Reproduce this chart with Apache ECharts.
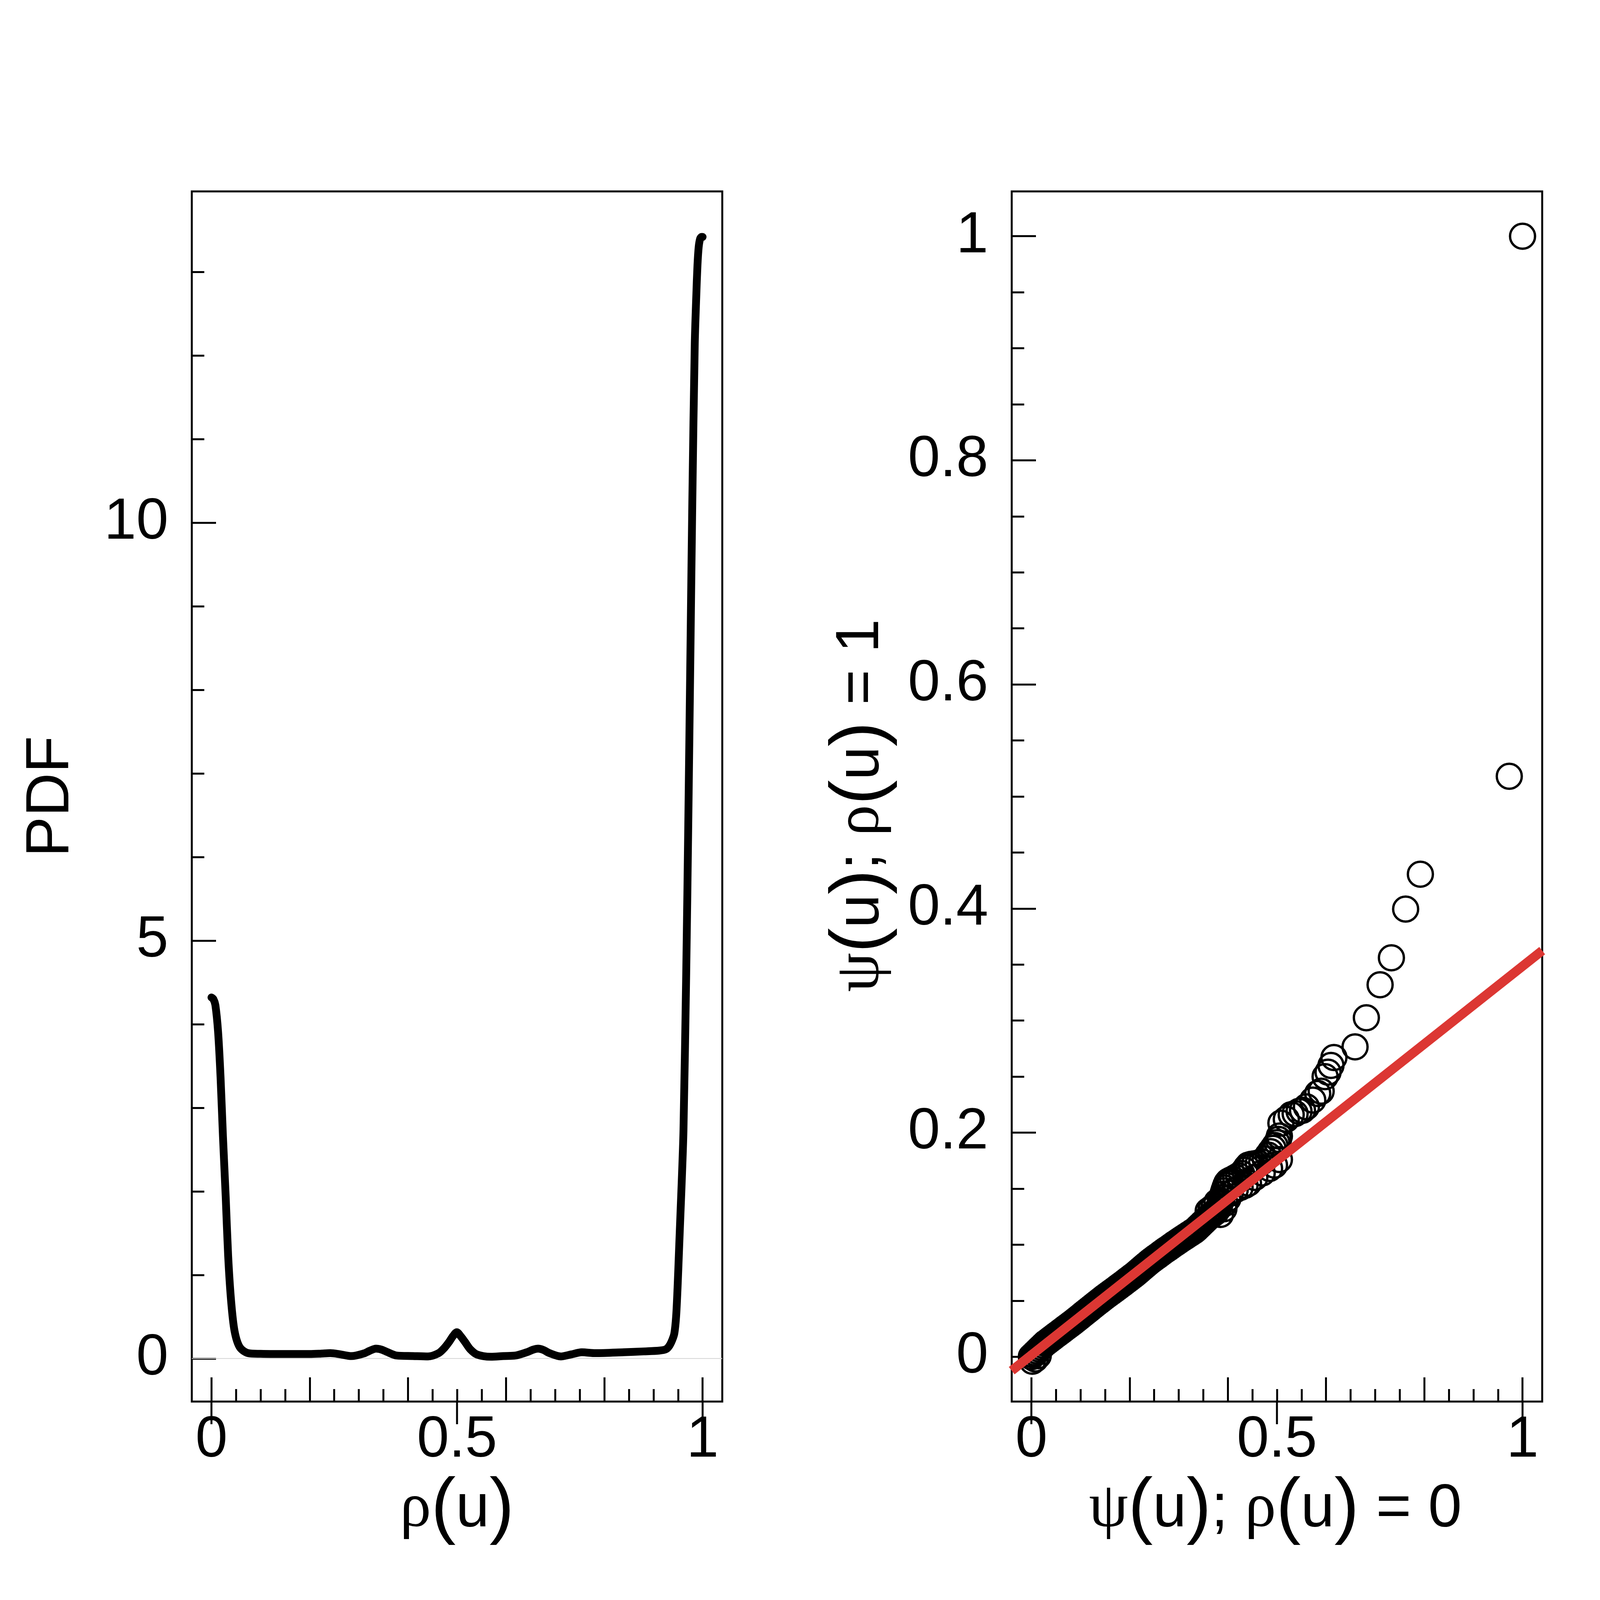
<!DOCTYPE html>
<html>
<head>
<meta charset="utf-8">
<script src="https://cdn.jsdelivr.net/npm/echarts@6/dist/echarts.min.js"></script>
<style>
  html, body { margin: 0; padding: 0; background: #fff; }
  #main { width: 4200px; height: 4200px; }
</style>
</head>
<body>
<div id="main"></div>
<script>
// left panel: density of rho(u)
const pdfX = [0, 0.004, 0.008, 0.0135, 0.0185, 0.0234, 0.029, 0.034, 0.040, 0.047, 0.0576, 0.075,
  0.10, 0.129, 0.16, 0.20, 0.222, 0.242, 0.262, 0.285, 0.31, 0.322, 0.335, 0.347, 0.357, 0.377,
  0.41, 0.441, 0.4625, 0.474, 0.484, 0.492, 0.4995, 0.507, 0.516, 0.527, 0.541, 0.569, 0.595,
  0.619, 0.642, 0.655, 0.665, 0.676, 0.688, 0.711, 0.733, 0.754, 0.782, 0.839, 0.88, 0.912,
  0.925, 0.932, 0.938, 0.9424, 0.946, 0.949, 0.952, 0.955, 0.958, 0.961, 0.9666, 0.971, 0.975,
  0.979, 0.984, 0.987, 0.9895, 0.992, 0.995, 0.998, 1.0];
const pdfY = [4.32, 4.30, 4.23, 3.91, 3.37, 2.66, 1.94, 1.23, 0.69, 0.33, 0.136, 0.064,
  0.056, 0.054, 0.054, 0.054, 0.058, 0.064, 0.05, 0.029, 0.06, 0.092, 0.118, 0.105, 0.08, 0.036,
  0.03, 0.025, 0.064, 0.125, 0.2, 0.27, 0.315, 0.27, 0.2, 0.11, 0.047, 0.021, 0.03,
  0.036, 0.075, 0.106, 0.118, 0.102, 0.065, 0.025, 0.05, 0.075, 0.064, 0.075, 0.085, 0.095,
  0.11, 0.15, 0.22, 0.30, 0.50, 0.85, 1.30, 1.75, 2.20, 2.73, 4.61, 6.49, 8.37,
  10.25, 12.14, 12.70, 13.08, 13.30, 13.40, 13.42, 13.42];

// right panel: psi(u) for rho=0 (x) against rho=1 (y)
const qqX = [0.000, 0.004, 0.008, 0.012, 0.016, 0.020, 0.024, 0.028, 0.032, 0.036, 0.040, 0.044,
  0.048, 0.052, 0.056, 0.060, 0.064, 0.068, 0.072, 0.076, 0.080, 0.084, 0.088, 0.092, 0.096,
  0.100, 0.104, 0.108, 0.112, 0.116, 0.120, 0.124, 0.128, 0.132, 0.136, 0.140, 0.144, 0.148,
  0.152, 0.156, 0.160, 0.164, 0.168, 0.172, 0.176, 0.180, 0.184, 0.188, 0.192, 0.196, 0.200,
  0.204, 0.208, 0.212, 0.216, 0.220, 0.224, 0.228, 0.232, 0.236, 0.240, 0.244, 0.248, 0.252,
  0.256, 0.260, 0.264, 0.268, 0.272, 0.276, 0.280, 0.284, 0.288, 0.292, 0.296, 0.300, 0.304,
  0.308, 0.312, 0.316, 0.320, 0.324, 0.328, 0.332, 0.336, 0.340, 0.344, 0.348, 0.352, 0.356,
  0.360, 0.364, 0.368, 0.372, 0.376, 0.379, 0.382, 0.384, 0.386, 0.388, 0.390, 0.392, 0.394,
  0.396, 0.398, 0.401, 0.405, 0.410, 0.416, 0.422, 0.428, 0.434, 0.438, 0.442, 0.448, 0.455,
  0.462, 0.469, 0.476, 0.482, 0.487, 0.492, 0.496, 0.500, 0.503, 0.505, 0.508, 0.519, 0.529,
  0.537, 0.545, 0.552, 0.560, 0.573, 0.583, 0.590, 0.598, 0.604, 0.610, 0.616, 0.659, 0.682,
  0.710, 0.733, 0.762, 0.792, 0.973, 1.000,
  0.002, 0.008, 0.014, 0.360, 0.366, 0.372, 0.378, 0.385, 0.392, 0.394, 0.400, 0.405, 0.415,
  0.425, 0.435, 0.442, 0.455, 0.470, 0.485, 0.495, 0.505];
const qqY = [0.0000, 0.0017, 0.0034, 0.0051, 0.0068, 0.0085, 0.0102, 0.0119, 0.0132, 0.0146, 0.0159, 0.0172,
  0.0186, 0.0199, 0.0212, 0.0225, 0.0238, 0.0252, 0.0265, 0.0278, 0.0291, 0.0304, 0.0318, 0.0332, 0.0346,
  0.0360, 0.0375, 0.0389, 0.0403, 0.0417, 0.0431, 0.0445, 0.0459, 0.0473, 0.0487, 0.0500, 0.0514, 0.0528,
  0.0541, 0.0554, 0.0567, 0.0580, 0.0593, 0.0606, 0.0619, 0.0632, 0.0645, 0.0658, 0.0672, 0.0685, 0.0698,
  0.0712, 0.0725, 0.0739, 0.0754, 0.0769, 0.0784, 0.0799, 0.0814, 0.0829, 0.0844, 0.0858, 0.0871, 0.0884,
  0.0896, 0.0909, 0.0922, 0.0935, 0.0948, 0.0960, 0.0972, 0.0984, 0.0997, 0.1009, 0.1021, 0.1033, 0.1045,
  0.1056, 0.1068, 0.1079, 0.1091, 0.1102, 0.1114, 0.1125, 0.1140, 0.1157, 0.1174, 0.1191, 0.1208, 0.1225,
  0.1242, 0.1258, 0.1270, 0.1282, 0.1296, 0.1315, 0.1340, 0.1365, 0.1390, 0.1420, 0.1450, 0.1480, 0.1505,
  0.1530, 0.1550, 0.1565, 0.1575, 0.1585, 0.1600, 0.1615, 0.1635, 0.1665, 0.1690, 0.1710, 0.1718, 0.1722,
  0.1728, 0.1740, 0.1765, 0.1800, 0.1830, 0.1860, 0.1885, 0.1910, 0.1940, 0.1970, 0.2085, 0.2120, 0.2160,
  0.2170, 0.2190, 0.2200, 0.2230, 0.2290, 0.2350, 0.2370, 0.2500, 0.2540, 0.2600, 0.2670, 0.2765, 0.3025,
  0.3320, 0.3560, 0.3995, 0.4306, 0.5180, 1.0000,
  -0.0040, -0.0020, 0.0010, 0.1300, 0.1320, 0.1340, 0.1380, 0.1270, 0.1320, 0.1370, 0.1410, 0.1460, 0.1490,
  0.1510, 0.1530, 0.1550, 0.1600, 0.1640, 0.1680, 0.1710, 0.1760];

// red reference line, end points read at the panel edges
const fitX = [-0.04, 1.04];
const fitY = [-0.0124, 0.3624];

// tick positions
const xMinorTicks = [0, 0.05, 0.1, 0.15, 0.2, 0.25, 0.3, 0.35, 0.4, 0.45, 0.5, 0.55, 0.6, 0.65, 0.7, 0.75, 0.8, 0.85, 0.9, 0.95, 1];
const xMajorTicks = [0, 0.2, 0.4, 0.6, 0.8, 1];
const xLabels = [0, 0.5, 1];
const xCrossTicks = [0, 0.5, 1];
const pdfMinorTicks = [0, 1, 2, 3, 4, 5, 6, 7, 8, 9, 10, 11, 12, 13];
const pdfLabels = [0, 5, 10];
const qqMinorTicks = [0, 0.05, 0.1, 0.15, 0.2, 0.25, 0.3, 0.35, 0.4, 0.45, 0.5, 0.55, 0.6, 0.65, 0.7, 0.75, 0.8, 0.85, 0.9, 0.95, 1];
const qqLabels = [0, 0.2, 0.4, 0.6, 0.8, 1];

const FONT = 'Liberation Sans';
const GREEK = 'Liberation Serif';
const GRID_TOP = 490, GRID_H = 3098, GRID_W = 1358;
const LEFT_X = 491, RIGHT_X = 2590;
const PDF_RANGE = [-0.515, 13.965];
const QQ_RANGE = [-0.04, 1.04];
const CROSS_LEN = 58; // px the ticks at 0, 0.5, 1 hang below the axis

const zip = (xs, ys) => xs.map((x, i) => [x, ys[i]]);

const tickLine = { color: '#000', width: 5 };

// one value axis layer: only ticks (and maybe labels) at the given values
function xLayer(grid, ticks, len, labels) {
  return {
    type: 'value', gridIndex: grid, position: 'bottom', min: -0.04, max: 1.04,
    axisLine: { show: false, onZero: false }, splitLine: { show: false },
    axisTick: { show: true, inside: true, length: len, lineStyle: tickLine, customValues: ticks },
    axisLabel: labels ? {
      show: true, customValues: labels, margin: 26, fontSize: 148, fontFamily: FONT, color: '#000'
    } : { show: false }
  };
}

function yLayer(grid, range, ticks, len, labels) {
  return {
    type: 'value', gridIndex: grid, position: 'left', min: range[0], max: range[1],
    axisLine: { show: false, onZero: false }, splitLine: { show: false },
    axisTick: { show: true, inside: true, length: len, lineStyle: tickLine, customValues: ticks },
    axisLabel: labels ? {
      show: true, customValues: labels, margin: 60, fontSize: 148, fontFamily: FONT, color: '#000'
    } : { show: false }
  };
}

const rich = {
  n: { fontSize: 155, fontFamily: FONT, fill: '#000' },
  g: { fontSize: 160, fontFamily: GREEK, fill: '#000' },
  p: { fontSize: 190, fontFamily: FONT, fill: '#000' }
};

function title(x, y, text, rot) {
  return {
    type: 'text', x: x, y: y, rotation: rot || 0, silent: true,
    style: { text: text, rich: rich, align: 'center', verticalAlign: 'middle', fill: '#000',
      fontSize: 155, fontFamily: FONT }
  };
}

const titles = [
  title(132, 2039, '{n|PDF}', Math.PI / 2),
  title(1170, 3864, '{g|ρ}{p|(}{n|u}{p|)}'),
  title(2205, 2062, '{g|ψ}{p|(}{n|u}{p|)}{n|; }{g|ρ}{p|(}{n|u}{p|)}{n| = 1}', Math.PI / 2),
  title(3265, 3864, '{g|ψ}{p|(}{n|u}{p|)}{n|; }{g|ρ}{p|(}{n|u}{p|)}{n| = 0}')
];

const option = {
  animation: false,
  backgroundColor: '#fff',
  grid: [
    { left: LEFT_X, top: GRID_TOP, width: GRID_W, height: GRID_H, show: true, borderColor: '#000', borderWidth: 5, backgroundColor: 'transparent' },
    { left: RIGHT_X, top: GRID_TOP, width: GRID_W, height: GRID_H, show: true, borderColor: '#000', borderWidth: 5, backgroundColor: 'transparent' }
  ],
  xAxis: [
    xLayer(0, xMinorTicks, 32, xLabels),
    xLayer(0, xMajorTicks, 62, null),
    xLayer(1, xMinorTicks, 32, xLabels),
    xLayer(1, xMajorTicks, 62, null)
  ],
  yAxis: [
    yLayer(0, PDF_RANGE, pdfMinorTicks, 32, pdfLabels),
    yLayer(0, PDF_RANGE, pdfLabels, 62, null),
    yLayer(1, QQ_RANGE, qqMinorTicks, 32, qqLabels),
    yLayer(1, QQ_RANGE, qqLabels, 62, null)
  ],
  series: [
    {
      type: 'line', xAxisIndex: 0, yAxisIndex: 0, z: 1, silent: true,
      data: zip([-0.04, 1.04], [0, 0]), showSymbol: false,
      lineStyle: { color: '#d4d4d4', width: 2 }
    },
    {
      name: 'PDF', type: 'line', xAxisIndex: 0, yAxisIndex: 0, z: 3,
      data: zip(pdfX, pdfY), showSymbol: false, smooth: 0.3,
      lineStyle: { color: '#000', width: 20, cap: 'round', join: 'round' }
    },
    {
      name: 'psi', type: 'scatter', xAxisIndex: 2, yAxisIndex: 2, z: 3,
      data: zip(qqX, qqY), symbol: 'circle', symbolSize: 64, large: false,
      itemStyle: { color: 'rgba(0,0,0,0)', borderColor: '#000', borderWidth: 6, opacity: 1 }
    },
    {
      name: 'fit', type: 'line', xAxisIndex: 2, yAxisIndex: 2, z: 4,
      data: zip(fitX, fitY), showSymbol: false,
      lineStyle: { color: '#dc3733', width: 24, cap: 'butt' }
    }
  ],
  graphic: titles
};

const chart = echarts.init(document.getElementById('main'));
chart.setOption(option);

// ticks at 0, 0.5 and 1 that cross the bottom axis; placed with the axis scale
const axisBottom = GRID_TOP + GRID_H;
const crossLines = [];
[0, 2].forEach(xIdx => {
  xCrossTicks.forEach(v => {
    const px = chart.convertToPixel({ xAxisIndex: xIdx }, v);
    crossLines.push({
      type: 'line', silent: true, z: 10,
      shape: { x1: px, y1: axisBottom - 2, x2: px, y2: axisBottom + CROSS_LEN },
      style: { stroke: '#000', lineWidth: 5 }
    });
  });
});
chart.setOption({ graphic: titles.concat(crossLines) });
</script>
</body>
</html>
